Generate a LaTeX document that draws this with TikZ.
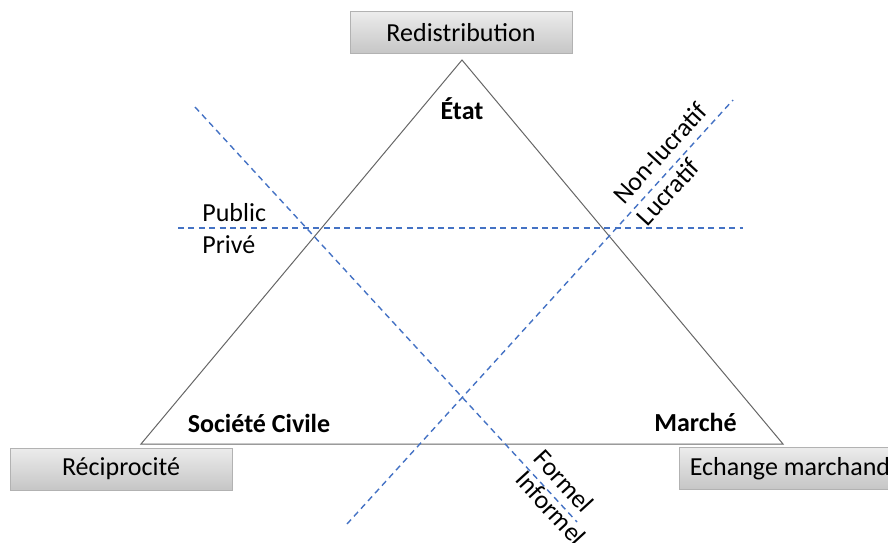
\documentclass[tikz,border=0pt]{standalone}
\usepackage{fontspec}
\setmainfont{Carlito}
\usetikzlibrary{calc}
\definecolor{lineblue}{HTML}{4472C4}
\tikzset{
  pole/.style={draw=gray!60, top color=gray!15, bottom color=gray!45, minimum width=111pt, minimum height=21pt, inner sep=0pt},
  cut/.style={lineblue, line width=0.7pt, dash pattern=on 3pt off 2.2pt},
  lbl/.style={inner sep=0pt, font=\fontsize{13}{15}\selectfont},
  blbl/.style={lbl, font=\fontsize{13}{15}\selectfont\bfseries}
}
\begin{document}
\begin{tikzpicture}[x=0.5pt, y=-0.5pt]
            \useasboundingbox (0,0) rectangle (888,542);
            \coordinate (top) at (462,60);
            \coordinate (left) at (141,444);
            \coordinate (right) at (783,444);
            \draw[gray!80!black, line width=0.5pt] (top) -- (left) -- (right) -- cycle;

            \node[pole, lbl] (redis) at (461,32.5) {Redistribution};
            \node[pole, lbl] (recip) at (121,469) {Réciprocité};
            \node[pole, lbl] (echange) at (790,468.5) {Echange marchand};

            \coordinate (h1) at (178,228);
            \coordinate (h2) at (743,228);
            \coordinate (f1) at (195,107);
            \coordinate (f2) at (577,522);
            \coordinate (l1) at (347,524);
            \coordinate (l2) at (733,100);
            \draw[cut] (h1) -- (h2);
            \draw[cut] (f1) -- (f2);
            \draw[cut] (l1) -- (l2);

            \node[blbl] (etat) at (462,109) {État};
            \node[blbl] (civile) at (259,423) {Société Civile};
            \node[blbl] (marche) at (695.5,422) {Marché};
            \node[lbl, anchor=west] (public) at (202,213) {Public};
            \node[lbl, anchor=west] (prive) at (202,245) {Privé};
            \node[lbl, rotate=47.5] (nonluc) at (660,153) {Non-lucratif};
            \node[lbl, rotate=47.5] (luc) at (668,192) {Lucratif};
            \node[lbl, rotate=-47.5] (formel) at (564,481) {Formel};
            \node[lbl, rotate=-47.5] (informel) at (551,508) {Informel};
        \end{tikzpicture}
\end{document}
